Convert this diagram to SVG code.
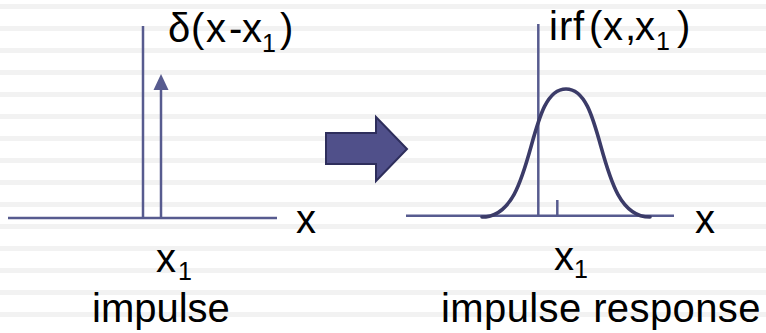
<svg xmlns="http://www.w3.org/2000/svg" width="766" height="333" viewBox="0 0 766 333">
<defs>
<style>
.ax{stroke:#575b8f;stroke-width:2.5;fill:none}
.crv{stroke:#3b3b68;stroke-width:3.6;fill:none;stroke-linecap:round}
.t{font-family:"Liberation Sans",Arial,sans-serif;font-size:40px;fill:#000}
.s{font-size:25px}
.stripe{fill:#f2f2f2}
</style>
<pattern id="stripes" x="0" y="4" width="766" height="22" patternUnits="userSpaceOnUse">
<rect x="0" y="0" width="766" height="5" class="stripe"/>
</pattern>
</defs>
<rect x="0" y="0" width="766" height="333" fill="#fff"/>
<rect x="0" y="0" width="766" height="333" fill="url(#stripes)"/>

<g id="impulse-plot">
<line class="ax" x1="8" y1="218" x2="277" y2="218"/>
<line class="ax" x1="143" y1="26" x2="143" y2="218"/>
<line class="ax" x1="161" y1="218" x2="161" y2="88"/>
<polygon points="161,74 153.5,90 168.5,90" fill="#575b8f"/>
<text class="t" y="42"><tspan x="168">δ</tspan><tspan x="191">(</tspan><tspan x="206">x</tspan><tspan x="229">-</tspan><tspan x="242">x</tspan><tspan class="s" x="262" dy="10">1</tspan><tspan x="280" dy="-10">)</tspan></text>
<text class="t" x="296" y="233">x</text>
<text class="t" y="272"><tspan x="156">x</tspan><tspan class="s" x="178" dy="8">1</tspan></text>
<text class="t" x="92" y="322">impulse</text>
</g>

<g id="big-arrow">
<polygon points="326,133 376,133 376,117 407,149 376,181 376,164 326,164" fill="#50508a" stroke="#2e2e5c" stroke-width="2" stroke-linejoin="miter"/>
</g>

<g id="response-plot">
<line class="ax" x1="406" y1="215.7" x2="674" y2="215.7"/>
<line class="ax" x1="538.3" y1="24" x2="538.3" y2="215.7"/>
<line class="ax" x1="557.3" y1="200" x2="557.3" y2="215.7"/>
<path class="crv" d="M482,217 C537,217 525,89 566,89 C607,89 595,217 650,217"/>
<text class="t" y="40"><tspan x="549">i</tspan><tspan x="559">r</tspan><tspan x="573">f</tspan><tspan x="589">(</tspan><tspan x="603">x</tspan><tspan x="625">,</tspan><tspan x="635">x</tspan><tspan class="s" x="656" dy="10">1</tspan><tspan x="677" dy="-10">)</tspan></text>
<text class="t" x="695" y="233">x</text>
<text class="t" y="270"><tspan x="554">x</tspan><tspan class="s" x="574" dy="8">1</tspan></text>
<text class="t" x="441" y="322" letter-spacing="0.4">impulse response</text>
</g>
</svg>
